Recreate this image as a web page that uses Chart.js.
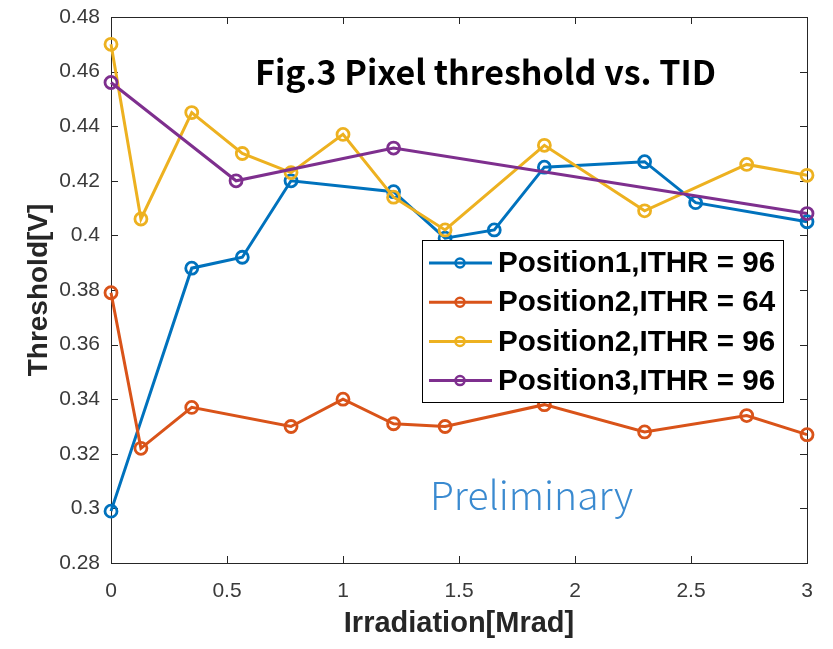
<!DOCTYPE html>
<html lang="en">
<head>
  <meta charset="UTF-8">
  <title>Pixel threshold vs. TID</title>
  <script src="https://cdn.jsdelivr.net/npm/chart.js"></script>
  <style>
    body { margin: 0; background: white; }
    canvas { display: block; }
  </style>
</head>
<body>
  <canvas id="tidChart" width="833" height="649"></canvas>

  <script>
    // irradiation dose [Mrad] and threshold [V] for each position
    const pos1Dose = [0, 0.348, 0.566, 0.776, 1.218, 1.44, 1.652, 1.868, 2.3, 2.52, 3.0];
    const pos1Thr96 = [0.299, 0.388, 0.392, 0.420, 0.416, 0.399, 0.402, 0.425, 0.427, 0.412, 0.405];

    const pos2Dose64 = [0, 0.129, 0.348, 0.776, 1.0, 1.218, 1.44, 1.868, 2.3, 2.74, 3.0];
    const pos2Thr64 = [0.379, 0.322, 0.337, 0.330, 0.340, 0.331, 0.330, 0.338, 0.328, 0.334, 0.327];

    const pos2Dose96 = [0, 0.129, 0.348, 0.566, 0.776, 1.0, 1.218, 1.44, 1.868, 2.3, 2.74, 3.0];
    const pos2Thr96 = [0.470, 0.406, 0.445, 0.430, 0.423, 0.437, 0.414, 0.402, 0.433, 0.409, 0.426, 0.422];

    const pos3Dose = [0, 0.539, 1.218, 3.0];
    const pos3Thr96 = [0.456, 0.420, 0.432, 0.408];

    const seriesNames = ["Position1,ITHR = 96", "Position2,ITHR = 64", "Position2,ITHR = 96", "Position3,ITHR = 96"];
    const seriesColors = ["#0072BD", "#D95319", "#EDB120", "#7E2F8E"];

    const axisColor = "#262626";
    const tickText = v => String(+Number(v).toFixed(2));

    function pairs(xs, ys) {
      return xs.map((x, i) => ({ x: x, y: ys[i] }));
    }

    const rawSeries = [
      pairs(pos1Dose, pos1Thr96),
      pairs(pos2Dose64, pos2Thr64),
      pairs(pos2Dose96, pos2Thr96),
      pairs(pos3Dose, pos3Thr96)
    ];

    const datasets = rawSeries.map((pts, i) => ({
      label: seriesNames[i],
      data: pts,
      borderColor: seriesColors[i],
      borderWidth: 3,
      pointRadius: 6,
      pointBorderWidth: 2.8,
      pointBackgroundColor: "rgba(0,0,0,0)",
      pointBorderColor: seriesColors[i],
      fill: false,
      tension: 0,
      clip: false,
      order: rawSeries.length - i
    }));

    // box around the plot area with inward ticks on all four sides
    const boxPlugin = {
      id: "matlabBox",
      beforeDatasetsDraw(chart) {
        const { ctx, chartArea: a, scales } = chart;
        ctx.save();
        ctx.strokeStyle = axisColor;
        ctx.lineWidth = 1;
        ctx.strokeRect(a.left + 0.5, a.top + 0.5, a.right - a.left, a.bottom - a.top);
        ctx.beginPath();
        scales.x.ticks.forEach(t => {
          const px = Math.round(scales.x.getPixelForValue(t.value)) + 0.5;
          ctx.moveTo(px, a.bottom); ctx.lineTo(px, a.bottom - 7);
          ctx.moveTo(px, a.top); ctx.lineTo(px, a.top + 7);
        });
        scales.y.ticks.forEach(t => {
          const py = Math.round(scales.y.getPixelForValue(t.value)) + 0.5;
          ctx.moveTo(a.left, py); ctx.lineTo(a.left + 7, py);
          ctx.moveTo(a.right, py); ctx.lineTo(a.right - 7, py);
        });
        ctx.stroke();
        ctx.restore();
      }
    };

    // axis titles, figure caption, watermark and the legend box
    const textPlugin = {
      id: "annotations",
      afterDraw(chart) {
        const { ctx, chartArea: a } = chart;
        ctx.save();

        ctx.fillStyle = axisColor;
        ctx.font = "bold 29px 'Liberation Sans', Arial, sans-serif";
        ctx.textAlign = "center";
        ctx.textBaseline = "alphabetic";
        ctx.fillText("Irradiation[Mrad]", (a.left + a.right) / 2, 632);

        ctx.save();
        ctx.font = "bold 28px 'Liberation Sans', Arial, sans-serif";
        ctx.translate(47, (a.top + a.bottom) / 2);
        ctx.rotate(-Math.PI / 2);
        ctx.fillText("Threshold[V]", 0, 0);
        ctx.restore();

        ctx.fillStyle = "#000";
        ctx.textAlign = "left";
        ctx.font = "bold 34px 'Noto Sans CJK SC', 'Noto Sans', sans-serif";
        ctx.fillText("Fig.3 Pixel threshold vs. TID", 255, 85);

        ctx.fillStyle = "#3A8AD0";
        ctx.font = "300 39px 'Noto Sans CJK SC', 'Noto Sans', sans-serif";
        ctx.fillText("Preliminary", 430, 510);

        // legend
        const lx = 422, ly = 240, lw = 361, lh = 162;
        ctx.fillStyle = "#fff";
        ctx.fillRect(lx, ly, lw, lh);
        ctx.strokeStyle = "#000";
        ctx.lineWidth = 1;
        ctx.strokeRect(lx + 0.5, ly + 0.5, lw, lh);

        ctx.font = "bold 29.6px 'Liberation Sans', Arial, sans-serif";
        ctx.textBaseline = "middle";
        chart.data.datasets.forEach((ds, i) => {
          const cy = 263 + i * 39.2;
          ctx.strokeStyle = ds.borderColor;
          ctx.lineWidth = 3;
          ctx.beginPath();
          ctx.moveTo(429, cy); ctx.lineTo(492, cy);
          ctx.stroke();
          ctx.lineWidth = 2.5;
          ctx.beginPath();
          ctx.arc(460, cy, 4.5, 0, Math.PI * 2);
          ctx.stroke();
          ctx.fillStyle = "#000";
          ctx.fillText(ds.label, 498, cy + 1);
        });

        ctx.restore();
      }
    };

    new Chart(document.getElementById("tidChart"), {
      type: "line",
      data: { datasets: datasets },
      options: {
        responsive: false,
        animation: false,
        layout: { padding: { left: 0, top: 17, right: 26, bottom: 36 } },
        plugins: { legend: { display: false }, tooltip: { enabled: false } },
        scales: {
          x: {
            type: "linear",
            min: 0, max: 3,
            grid: { display: false, drawTicks: false },
            border: { display: false },
            ticks: {
              stepSize: 0.5,
              padding: 16,
              color: "#3a3a3a",
              font: { family: "'Liberation Sans', Arial, sans-serif", size: 21 },
              callback: tickText
            },
            afterFit(scale) { scale.height = 50; }
          },
          y: {
            min: 0.28, max: 0.48,
            grid: { display: false, drawTicks: false },
            border: { display: false },
            ticks: {
              stepSize: 0.02,
              padding: 11,
              color: "#3a3a3a",
              font: { family: "'Liberation Sans', Arial, sans-serif", size: 21 },
              callback: tickText
            },
            afterFit(scale) {
              scale.width = 111;
              scale.paddingTop = 4;
              scale.paddingBottom = 4;
            }
          }
        }
      },
      plugins: [boxPlugin, textPlugin]
    });
  </script>
</body>
</html>
